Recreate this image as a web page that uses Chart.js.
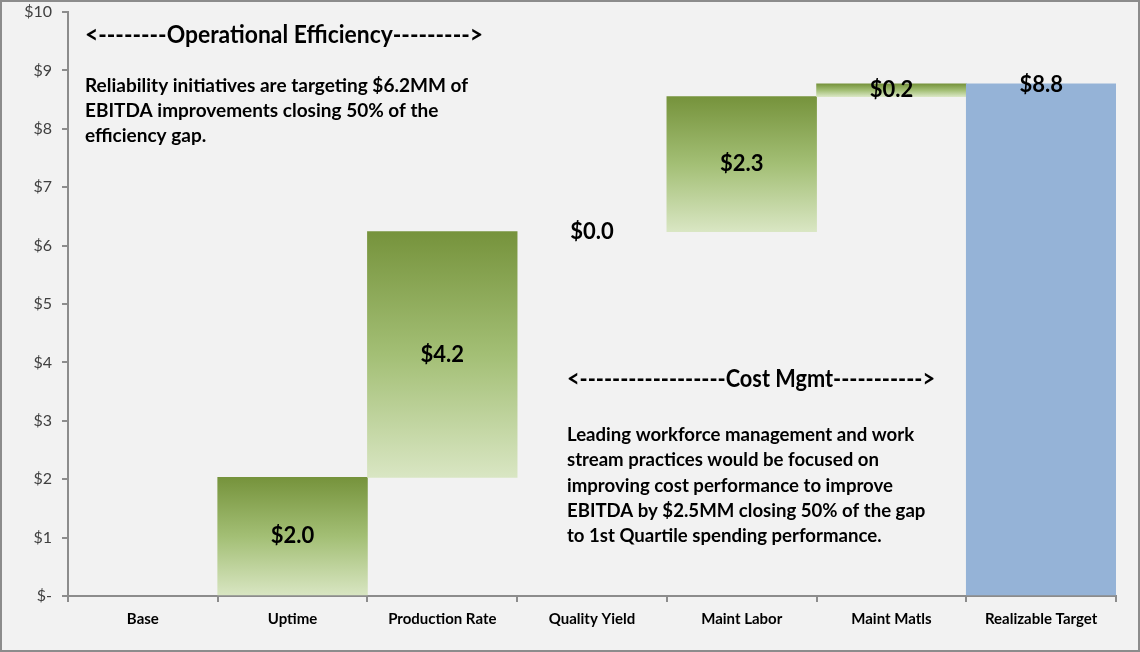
<!DOCTYPE html>
<html>
<head>
<meta charset="utf-8">
<script src="https://cdn.jsdelivr.net/npm/chart.js@4"></script>
<style>
  html, body { margin: 0; padding: 0; background: #f2f2f2; }
  #wrap { width: 1140px; height: 652px; position: relative; }
</style>
</head>
<body>
<div id="wrap"><canvas id="myChart" width="1140" height="652"></canvas></div>
<script>
  const categories = ['Base', 'Uptime', 'Production Rate', 'Quality Yield', 'Maint Labor', 'Maint Matls', 'Realizable Target'];
  // floating bar ranges [start, end] in $MM
  const starts = [0, 0, 2.03, 6.24, 6.24, 8.55, 0];
  const ends   = [0, 2.03, 6.24, 6.24, 8.55, 8.77, 8.77];
  const valueLabels = ['', '$2.0', '$4.2', '$0.0', '$2.3', '$0.2', '$8.8'];
  const yTicks = [0, 1, 2, 3, 4, 5, 6, 7, 8, 9, 10];

  const FONT = 'Lato, "Open Sans", sans-serif';

  // green gradient per bar, dark top -> light bottom
  function barFill(context) {
    const chart = context.chart;
    const i = context.dataIndex;
    if (i === categories.length - 1) return '#95b3d7';
    const y = chart.scales.y;
    if (!y || !chart.chartArea) return 'rgba(0,0,0,0)';
    const top = y.getPixelForValue(ends[i]);
    const bot = y.getPixelForValue(starts[i]);
    if (!isFinite(top) || !isFinite(bot) || bot - top < 1) return 'rgba(0,0,0,0)';
    const g = chart.ctx.createLinearGradient(0, top, 0, bot);
    g.addColorStop(0, '#76933c');
    g.addColorStop(0.5, '#a3bf75');
    g.addColorStop(1, '#d9e6c3');
    return g;
  }

  // background, frame, notes and value labels
  const decor = {
    id: 'decor',
    beforeDraw(chart) {
      const { ctx, width, height } = chart;
      ctx.save();
      ctx.fillStyle = '#f2f2f2';
      ctx.fillRect(0, 0, width, height);
      ctx.restore();
    },
    afterDatasetsDraw(chart) {
      const { ctx } = chart;
      const meta = chart.getDatasetMeta(0);
      ctx.save();
      ctx.fillStyle = '#000';
      ctx.textAlign = 'center';
      ctx.textBaseline = 'middle';
      ctx.font = 'bold 22px ' + FONT;
      meta.data.forEach((bar, i) => {
        if (!valueLabels[i]) return;
        let y = (bar.y + bar.base) / 2;
        if (i === categories.length - 1) y = bar.y + 1;
        ctx.fillText(valueLabels[i], bar.x, y);
      });
      ctx.restore();
    },
    afterDraw(chart) {
      const { ctx, width, height } = chart;
      ctx.save();
      ctx.fillStyle = '#000';
      ctx.textAlign = 'left';
      ctx.textBaseline = 'alphabetic';

      ctx.font = 'bold 25px ' + FONT;
      ctx.fillText('<--------Operational Efficiency--------->', 85, 43, 398);
      ctx.fillText('<------------------Cost Mgmt----------->', 567, 387, 368);

      ctx.font = 'bold 19px ' + FONT;
      const note1 = ['Reliability initiatives are targeting $6.2MM of',
                     'EBITDA improvements closing 50% of the',
                     'efficiency gap.'];
      note1.forEach((t, k) => ctx.fillText(t, 85, 92 + k * 25));
      ctx.font = 'bold 18.6px ' + FONT;
      const note2 = ['Leading workforce management and work',
                     'stream practices would be focused on',
                     'improving cost performance to improve',
                     'EBITDA by $2.5MM closing 50% of the gap',
                     'to 1st Quartile spending performance.'];
      note2.forEach((t, k) => ctx.fillText(t, 567, 441 + k * 25.3));

      ctx.strokeStyle = '#8c8c8c';
      ctx.lineWidth = 2;
      ctx.strokeRect(1, 1, width - 2, height - 2);
      ctx.restore();
    }
  };

  const config = {
    type: 'bar',
    data: {
      labels: categories,
      datasets: [{
        data: starts.map((s, i) => [s, ends[i]]),
        backgroundColor: barFill,
        borderWidth: 0,
        categoryPercentage: 1,
        barPercentage: 1
      }]
    },
    options: {
      responsive: false,
      animation: false,
      events: [],
      layout: { padding: { top: 12, right: 24, bottom: 16, left: 0 } },
      plugins: {
        legend: { display: false },
        tooltip: { enabled: false }
      },
      scales: {
        x: {
          offset: true,
          grid: { display: true, drawOnChartArea: false, offset: true, tickLength: 6, color: '#8c8c8c', lineWidth: 2 },
          border: { color: '#8c8c8c', width: 2 },
          ticks: { color: '#000', font: { family: FONT, size: 15, weight: 'bold' }, padding: 8, maxRotation: 0 }
        },
        y: {
          min: 0,
          max: 10,
          afterBuildTicks(scale) { scale.ticks = yTicks.map(v => ({ value: v })); },
          afterFit(scale) { scale.width = 68; scale.paddingTop = 0; scale.paddingBottom = 0; },
          grid: { display: true, drawOnChartArea: false, tickLength: 6, color: '#8c8c8c', lineWidth: 2 },
          border: { color: '#8c8c8c', width: 2 },
          ticks: {
            color: '#404040',
            font: { family: FONT, size: 16 },
            padding: 10,
            callback: v => v === 0 ? '$-' : '$' + v
          }
        }
      }
    },
    plugins: [decor]
  };

  const myChart = new Chart(document.getElementById('myChart'), config);
</script>
</body>
</html>
